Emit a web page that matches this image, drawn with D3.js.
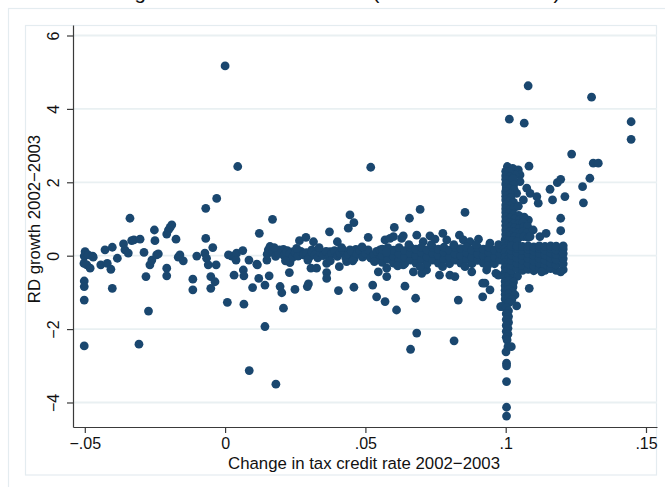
<!DOCTYPE html>
<html>
<head>
<meta charset="utf-8">
<script src="https://cdn.jsdelivr.net/npm/d3@7"></script>
<style>
  html, body { margin: 0; padding: 0; background: #fff; }
  svg { display: block; }
  text { font-family: "Liberation Sans", Arial, Helvetica, sans-serif; fill: #111; }
</style>
</head>
<body>
<svg id="chart" width="665" height="487"></svg>
<script>
// Firm-level change in the tax credit rate (x) against RD growth (y), 2002-2003.
// Firms whose credit rate fell.
const creditCuts = [
  [-0.0499,0.11],[-0.0502,-0.01],[-0.0488,0.02],[-0.0472,-0.01],[-0.0470,-0.04],[-0.0503,-0.21],
  [-0.0493,-0.25],[-0.0481,-0.34],[-0.0502,-0.69],[-0.0502,-0.84],[-0.0502,-1.21],[-0.0502,-2.46],
  [-0.0443,-0.25],[-0.0420,-0.21],[-0.0428,0.16],[-0.0402,0.23],[-0.0407,-0.37],[-0.0402,-0.89],
  [-0.0384,-0.07],[-0.0362,0.32],[-0.0357,0.16],[-0.0345,0.07],[-0.0339,1.02],[-0.0333,0.41],
  [-0.0325,0.43],[-0.0303,0.45],[-0.0289,0.09],[-0.0282,-0.57],[-0.0273,-1.51],[-0.0307,-2.41],
  [-0.0268,-0.25],[-0.0261,-0.12],[-0.0252,0.70],[-0.0250,0.41],[-0.0244,0.02],[-0.0238,0.05],
  [-0.0208,0.59],[-0.0202,0.70],[-0.0196,0.77],[-0.0190,0.84],[-0.0175,0.45],[-0.0167,-0.04],
  [-0.0161,0.02],[-0.0149,-0.14],[-0.0208,-0.34],[-0.0208,-0.55],[-0.0115,-0.64],[-0.0115,-0.93],
  [-0.0101,-0.01],[-0.0072,0.07],[-0.0069,1.29],[-0.0069,0.47],[-0.0066,-0.07],[-0.0060,-0.25],
  [-0.0051,-0.57],[-0.0051,-0.89],[-0.0044,0.22],[-0.0036,-0.71],[-0.0032,-0.25],[-0.0030,1.56]
];

// Small increases, up to about five points.
const smallRaises = [
  [0.0000,5.17],[0.0008,-1.27],[0.0045,2.43],[0.0012,0.02],[0.0024,-0.01],[0.0035,-0.04],
  [0.0041,0.07],[0.0039,-0.12],[0.0032,-0.53],[0.0063,0.14],[0.0065,-0.39],[0.0067,-0.55],
  [0.0067,-1.32],[0.0085,-0.12],[0.0098,-0.87],[0.0086,-3.13],[0.0113,-0.23],[0.0122,0.61],
  [0.0120,-0.62],[0.0115,-0.25],[0.0142,-0.80],[0.0157,-0.55],[0.0149,-0.12],[0.0154,0.16],
  [0.0160,0.25],[0.0169,0.99],[0.0142,-1.93],[0.0181,-3.50],[0.0194,0.16],[0.0208,0.17],
  [0.0222,0.14],[0.0231,-0.19],[0.0229,-0.46],[0.0196,-0.84],[0.0202,-1.01],[0.0208,-1.43],
  [0.0249,-0.92],[0.0243,0.11],[0.0265,0.41],[0.0279,0.02],[0.0288,0.50],[0.0293,-0.84],
  [0.0297,-0.77],[0.0306,-0.34],[0.0315,0.38],[0.0326,-0.34],[0.0333,0.16],[0.0309,0.16],
  [0.0362,-0.21],[0.0362,-0.46],[0.0362,-0.62],[0.0372,0.65],[0.0374,0.11],[0.0400,0.38],
  [0.0404,-0.95],[0.0407,-0.30],[0.0410,0.11],[0.0439,0.75],[0.0445,1.11],[0.0459,0.90],
  [0.0459,-0.86],[0.0445,0.16],[0.0433,-0.16],[0.0466,0.17],[0.0493,0.16],[0.0510,0.50],
  [0.0516,-0.03],[0.0526,-0.80],[0.0540,-1.12],[0.0546,-0.44],[0.0519,2.41],
  [0.0150,0.04],[0.0170,0.10],[0.0180,-0.02],[0.0190,0.06],[0.0210,0.00],[0.0220,0.10],
  [0.0230,0.04],[0.0240,-0.05],[0.0250,0.08],[0.0260,-0.01],[0.0270,0.12],[0.0280,0.02],
  [0.0290,0.08],[0.0300,-0.04],[0.0310,0.10],[0.0320,0.02],[0.0330,-0.06],[0.0340,0.08],
  [0.0350,0.00],[0.0360,0.12],[0.0370,-0.04],[0.0380,0.05],[0.0390,0.14],[0.0400,-0.02],
  [0.0410,0.07],[0.0420,0.16],[0.0430,-0.06],[0.0440,0.03],[0.0450,0.12],[0.0460,-0.08],
  [0.0470,0.04],[0.0480,0.14],[0.0490,-0.04],[0.0500,0.07],[0.0510,0.16],[0.0520,-0.07],
  [0.0530,0.03],[0.0540,0.12],[0.0550,-0.10],
  [0.0175,0.22],[0.0215,-0.14],[0.0255,0.20],[0.0295,-0.12],[0.0335,0.22],[0.0375,-0.14],
  [0.0415,0.22],[0.0455,-0.14],[0.0488,0.24],[0.0532,-0.16]
];

// Increases between five and ten points.
const midRaises = [
  [0.0552,0.16],[0.0570,-1.25],[0.0576,-0.57],[0.0570,0.43],[0.0588,0.47],[0.0603,0.77],
  [0.0611,-1.48],[0.0629,0.47],[0.0635,-0.25],[0.0641,-0.83],[0.0657,1.02],[0.0661,-2.55],
  [0.0679,-1.16],[0.0683,-2.11],[0.0683,0.56],[0.0695,1.26],[0.0701,-0.48],[0.0712,0.11],
  [0.0730,0.54],[0.0748,0.45],[0.0760,-0.12],[0.0764,-0.53],[0.0776,0.61],[0.0801,-0.53],
  [0.0816,-2.32],[0.0819,-0.57],[0.0831,-1.21],[0.0835,0.56],[0.0855,1.18],[0.0849,0.43],
  [0.0879,-0.44],[0.0903,0.45],[0.0918,-0.75],[0.0926,-0.75],[0.0918,-1.12],[0.0944,-0.93],
  [0.0965,-0.48],[0.0982,-1.39],[0.0600,0.52],[0.0635,0.54],[0.0671,-0.44],[0.0974,-0.53],
  [0.0706,0.38],[0.0790,0.43],[0.0873,0.38],[0.0944,0.34],[0.0576,-0.34],[0.0718,-0.39],
  [0.0932,-0.39],
  [0.056,-0.18],[0.056,0.00],[0.056,0.18],[0.058,-0.10],[0.058,0.08],[0.058,0.22],
  [0.060,-0.20],[0.060,-0.02],[0.060,0.15],[0.062,-0.12],[0.062,0.05],[0.062,0.22],
  [0.064,-0.22],[0.064,-0.04],[0.064,0.14],[0.066,-0.12],[0.066,0.06],[0.066,0.23],
  [0.068,-0.20],[0.068,0.00],[0.068,0.18],[0.070,-0.10],[0.070,0.08],[0.070,0.23],
  [0.072,-0.22],[0.072,-0.03],[0.072,0.16],[0.074,-0.12],[0.074,0.06],[0.074,0.22],
  [0.076,-0.20],[0.076,0.00],[0.076,0.18],[0.078,-0.10],[0.078,0.10],[0.078,0.23],
  [0.080,-0.22],[0.080,-0.04],[0.080,0.15],[0.082,-0.12],[0.082,0.05],[0.082,0.22],
  [0.084,-0.20],[0.084,0.00],[0.084,0.19],[0.086,-0.10],[0.086,0.08],[0.086,0.23],
  [0.088,-0.22],[0.088,-0.04],[0.088,0.15],[0.090,-0.13],[0.090,0.05],[0.090,0.22],
  [0.092,-0.20],[0.092,0.00],[0.092,0.18],[0.094,-0.10],[0.094,0.09],[0.094,0.23],
  [0.096,-0.22],[0.096,-0.04],[0.096,0.15],[0.098,-0.12],[0.098,0.05],[0.098,0.20],
  [0.0575,0.10],[0.0615,-0.28],[0.0655,0.30],[0.0695,-0.30],[0.0735,0.30],[0.0775,-0.30],
  [0.0815,0.30],[0.0855,-0.30],[0.0895,0.30],[0.0935,-0.28],[0.0975,0.30]
];

// Firms whose rate rose by about ten points.
const tenPointRaises = [
  [0.1006,2.43],[0.1025,2.38],[0.1045,2.34],[0.1051,2.20],[0.1033,2.20],[0.1083,2.44],
  [0.1004,2.02],[0.1016,1.97],[0.1051,2.02],[0.1001,1.70],[0.1004,1.43],[0.1039,1.70],
  [0.1075,1.84],[0.1087,1.70],[0.1063,1.52],[0.1081,0.97],[0.1013,3.72],[0.1066,3.61],
  [0.1080,4.63],
  [0.1000,2.30],[0.1012,2.28],[0.1000,2.18],[0.1014,2.15],[0.1000,2.08],[0.1026,2.10],
  [0.1000,1.95],[0.1028,1.92],[0.1002,1.85],[0.1015,1.82],[0.1030,1.80],[0.1000,1.75],
  [0.1016,1.68],[0.1000,1.62],[0.1018,1.58],
  [0.1000,1.52],[0.1012,1.48],[0.1028,1.45],[0.1000,1.38],[0.1015,1.35],[0.1000,1.28],
  [0.1014,1.25],[0.1030,1.30],[0.1045,1.35],[0.1000,1.18],[0.1013,1.15],[0.1028,1.12],
  [0.1046,1.10],[0.1000,1.06],[0.1016,1.02],[0.1032,1.00],[0.1050,0.98],[0.1066,1.05],
  [0.1000,0.94],[0.1015,0.90],[0.1030,0.88],[0.1046,0.86],[0.1062,0.90],[0.1000,0.82],
  [0.1016,0.78],[0.1032,0.76],[0.1048,0.74],[0.1064,0.78],[0.1078,0.80],[0.1000,0.70],
  [0.1015,0.66],[0.1030,0.64],[0.1046,0.62],[0.1062,0.66],[0.1076,0.62],[0.1000,0.58],
  [0.1016,0.54],[0.1032,0.52],[0.1048,0.50],[0.1064,0.52],[0.1080,0.50],[0.1098,0.70],
  [0.1122,0.52],[0.1087,0.52],
  [0.0998,0.44],[0.1010,0.40],[0.1025,0.42],[0.1040,0.38],[0.0998,0.32],[0.1010,0.28],
  [0.0998,0.20],[0.1010,0.15],[0.0998,0.08],[0.1010,0.02],[0.0998,-0.05],[0.1010,-0.10],
  [0.0998,-0.18],[0.1010,-0.24],[0.0998,-0.32],[0.1010,-0.38],[0.0998,-0.45],[0.1020,-0.48],
  [0.0998,-0.58],[0.1012,-0.55],[0.1028,-0.60],[0.1042,-0.56],[0.0998,-0.70],[0.1012,-0.68],
  [0.1028,-0.72],[0.0998,-0.82],[0.1012,-0.80],[0.1026,-0.85],[0.0998,-0.94],[0.1012,-0.92],
  [0.1024,-0.98],[0.0998,-1.06],[0.1010,-1.04],[0.1033,-1.07],[0.0998,-1.18],[0.1010,-1.16],
  [0.1022,-1.20],[0.1000,-1.30],[0.1012,-1.28],[0.1039,-1.37],[0.0986,-1.39],[0.1084,-0.89],
  [0.1002,-1.42],[0.1010,-1.50],[0.1002,-1.58],[0.1010,-1.66],[0.1002,-1.74],[0.1010,-1.82],
  [0.1002,-1.90],[0.1008,-1.98],[0.1002,-2.06],[0.1008,-2.14],[0.1002,-2.22],[0.1005,-2.30],
  [0.1008,-2.48],[0.1020,-2.48],[0.1001,-2.62],[0.1003,-2.93],[0.1003,-3.00],[0.1003,-3.43],
  [0.1003,-4.13],[0.1003,-4.37]
];

// Increases above ten points.
const largeRaises = [
  [0.102,-0.40],[0.102,-0.26],[0.102,-0.12],[0.102,0.02],[0.102,0.15],[0.102,0.27],
  [0.104,-0.35],[0.104,-0.20],[0.104,-0.06],[0.104,0.08],[0.104,0.20],[0.104,0.26],
  [0.106,-0.40],[0.106,-0.27],[0.106,-0.13],[0.106,0.01],[0.106,0.14],[0.106,0.25],
  [0.108,-0.37],[0.108,-0.22],[0.108,-0.08],[0.108,0.06],[0.108,0.18],[0.108,0.27],
  [0.110,-0.41],[0.110,-0.28],[0.110,-0.14],[0.110,0.00],[0.110,0.13],[0.110,0.24],
  [0.112,-0.36],[0.112,-0.21],[0.112,-0.07],[0.112,0.07],[0.112,0.19],[0.112,0.27],
  [0.114,-0.40],[0.114,-0.26],[0.114,-0.12],[0.114,0.02],[0.114,0.15],[0.114,0.25],
  [0.116,-0.35],[0.116,-0.20],[0.116,-0.06],[0.116,0.08],[0.116,0.20],[0.116,0.27],
  [0.118,-0.40],[0.118,-0.25],[0.118,-0.11],[0.118,0.03],[0.118,0.16],[0.118,0.26],
  [0.1205,-0.38],[0.1205,-0.22],[0.1205,-0.08],[0.1205,0.06],[0.1205,0.18],[0.1205,0.27],
  [0.1111,1.61],[0.1116,1.43],[0.1158,1.81],[0.1167,1.52],[0.1184,1.99],[0.1196,2.08],
  [0.1211,1.61],[0.1235,2.77],[0.1196,1.02],[0.1196,0.68],[0.1144,0.61],[0.1196,-0.44],
  [0.1128,-0.44],[0.1306,4.32],[0.1447,3.65],[0.1447,3.17],[0.1312,2.52],[0.1330,2.52],
  [0.1300,2.11],[0.1274,1.88],[0.1277,1.44]
];

const xTickValues = [-0.05, 0, 0.05, 0.1, 0.15];
const xTickLabels = ["\u2212.05", "0", ".05", ".1", ".15"];
const yTickValues = [-4, -2, 0, 2, 4, 6];
const yTickLabels = ["\u22124", "\u22122", "0", "2", "4", "6"];

const titleText = "RD growth and tax credit rate (all firms 2002/2003)";
const xTitle = "Change in tax credit rate 2002\u22122003";
const yTitle = "RD growth 2002\u22122003";

const firms = [].concat(creditCuts, smallRaises, midRaises, tenPointRaises, largeRaises);

const svg = d3.select("#chart");
const plot = { left: 73, right: 657, top: 25, bottom: 427 };

const x = d3.scaleLinear().domain([-0.054205, 0.15392]).range([plot.left, plot.right]);
const y = d3.scaleLinear().domain([-4.668, 6.286]).range([plot.bottom, plot.top]);

const frameColor = "#e4ecf0";
const gridColor = "#e9f0f2";
const axisColor = "#3a3a3a";
const markerColor = "#1a476f";

// graph title, sitting above the outer frame
svg.append("text")
  .attr("x", 99).attr("y", -0.8)
  .attr("font-size", 20.6)
  .text(titleText);

// outer and inner frames
svg.append("rect").attr("x", 8.5).attr("y", 8.5).attr("width", 700).attr("height", 520)
  .attr("fill", "none").attr("stroke", frameColor).attr("stroke-width", 1.2);
svg.append("rect").attr("x", 25.5).attr("y", 25.5).attr("width", 631).attr("height", 449.5)
  .attr("fill", "none").attr("stroke", frameColor).attr("stroke-width", 1.2);

// horizontal grid
svg.append("g").selectAll("line").data(yTickValues).join("line")
  .attr("x1", plot.left).attr("x2", plot.right)
  .attr("y1", d => y(d)).attr("y2", d => y(d))
  .attr("stroke", gridColor).attr("stroke-width", 1.8);

// markers
svg.append("g").selectAll("circle").data(firms).join("circle")
  .attr("cx", d => x(d[0])).attr("cy", d => y(d[1]))
  .attr("r", 4.4).attr("fill", markerColor);

// x axis
const xAxis = d3.axisBottom(x)
  .tickValues(xTickValues)
  .tickFormat((d, i) => xTickLabels[i])
  .tickSizeInner(6).tickSizeOuter(0);
const gx = svg.append("g").attr("transform", `translate(0,${plot.bottom})`).call(xAxis);
gx.select(".domain").attr("stroke", axisColor).attr("stroke-width", 1.2);
gx.selectAll(".tick line").attr("stroke", axisColor).attr("stroke-width", 1.2);
gx.selectAll(".tick text").attr("y", 21.5).attr("dy", 0)
  .attr("font-size", 16).attr("font-family", null).attr("fill", "#111");

// y axis with rotated labels
const yAxis = d3.axisLeft(y)
  .tickValues(yTickValues)
  .tickFormat((d, i) => yTickLabels[i])
  .tickSizeInner(6).tickSizeOuter(0);
const gy = svg.append("g").attr("transform", `translate(${plot.left},0)`).call(yAxis);
gy.select(".domain").attr("stroke", axisColor).attr("stroke-width", 1.2);
gy.selectAll(".tick line").attr("stroke", axisColor).attr("stroke-width", 1.2);
gy.selectAll(".tick text")
  .attr("transform", "rotate(-90)")
  .attr("x", 0).attr("y", -14.5).attr("dy", 0)
  .attr("text-anchor", "middle")
  .attr("font-size", 16).attr("font-family", null).attr("fill", "#111");

// axis titles
svg.append("text")
  .attr("x", 364).attr("y", 468.5)
  .attr("text-anchor", "middle").attr("font-size", 16.8)
  .text(xTitle);
svg.append("text")
  .attr("transform", "translate(40,219) rotate(-90)")
  .attr("text-anchor", "middle").attr("font-size", 16.8)
  .text(yTitle);
</script>
</body>
</html>
